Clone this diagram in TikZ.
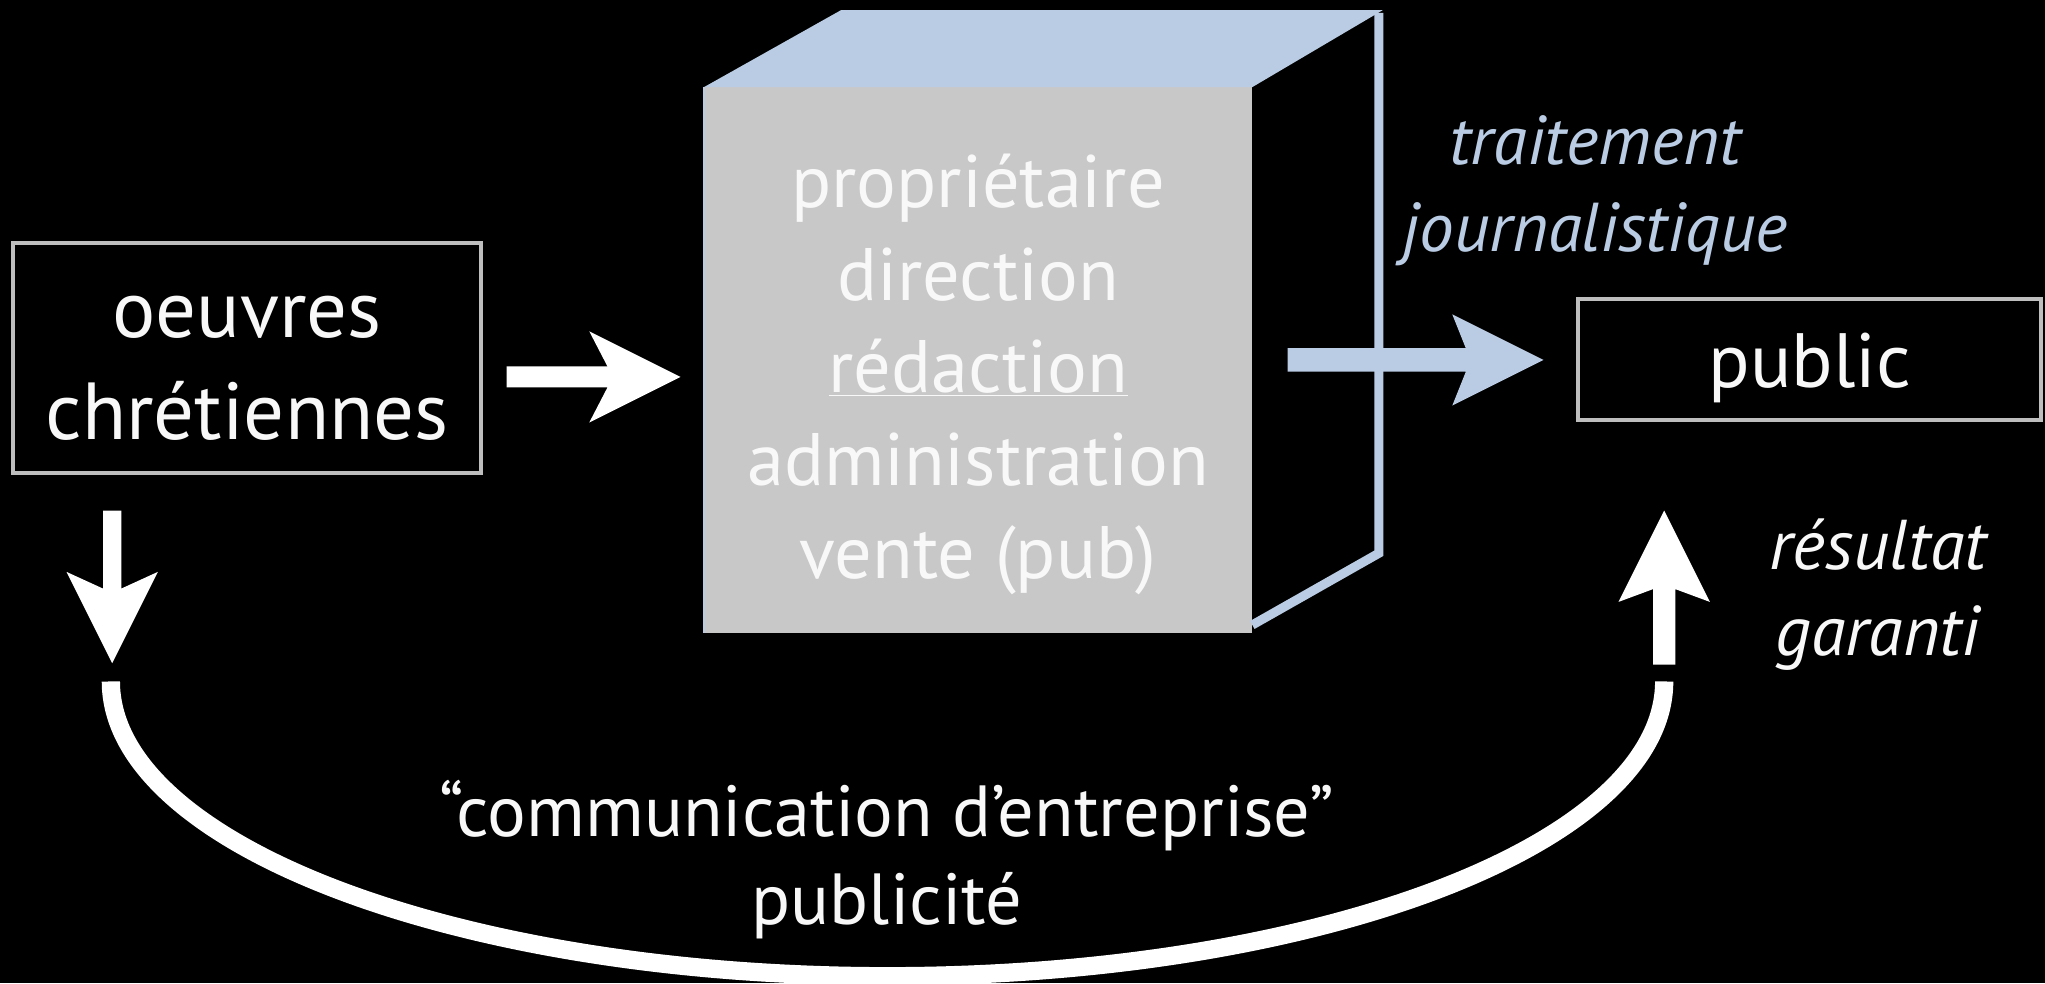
\documentclass[tikz,border=0pt]{standalone}
\usepackage{fontspec}
\setmainfont{PT Sans}
\usetikzlibrary{calc}
\definecolor{cubegray}{RGB}{200,200,200}
\definecolor{cubeblue}{RGB}{185,204,228}
\definecolor{boxgray}{RGB}{190,190,190}
\definecolor{softwhite}{RGB}{248,248,248}
% #1 tail, #2 tip, #3 colour, #4 half shaft, #5 half head, #6 junction distance, #7 head length
\newcommand\fatarrow[7]{%
  \fill[#3] ($(#1)!#4pt!90:(#2)$) -- ($(#2)!#6pt!(#1)!#4pt!90:(#2)$)
    -- ($(#2)!#7pt!(#1)!#5pt!90:(#2)$) -- (#2)
    -- ($(#2)!#7pt!(#1)!#5pt!-90:(#2)$) -- ($(#2)!#6pt!(#1)!#4pt!-90:(#2)$)
    -- ($(#1)!#4pt!-90:(#2)$) -- cycle;}
\begin{document}
\begin{tikzpicture}[x=1pt,y=-1pt,
  framebox/.style={draw=boxgray, line width=3pt, fill=black, inner sep=0pt},
  boxtext/.style={text=softwhite, align=center, inner sep=0pt},
  cubeface/.style={fill=cubegray, inner sep=0pt, minimum width=420pt, minimum height=418pt},
  cubetext/.style={text=softwhite, align=center, inner sep=0pt,
    font=\fontsize{57pt}{71pt}\selectfont},
  bluelabel/.style={text=cubeblue, align=center, inner sep=0pt,
    font=\fontsize{53pt}{67pt}\selectfont\itshape},
  whitelabel/.style={text=softwhite, align=center, inner sep=0pt,
    font=\fontsize{54pt}{66pt}\selectfont\itshape},
  bottomlabel/.style={text=softwhite, align=center, inner sep=0pt,
    font=\fontsize{55.5pt}{68pt}\selectfont},
  cubeedge/.style={draw=cubeblue, line width=7pt, line join=miter},
  loopline/.style={draw=white, line width=14pt}
]
\fill[black] (0,0) rectangle (1568,754);
\useasboundingbox (0,0) rectangle (1568,754);

% nodes
\node[framebox, minimum width=359pt, minimum height=177pt] (oeuvres) at (189.5,274.5) {};
\node[boxtext, font=\fontsize{62pt}{78pt}\selectfont] (oeuvrestext) at ($(oeuvres)+(0,8)$) {oeuvres\\chrétiennes};
\node[cubeface] (front) at (750,276) {};
\node[framebox, minimum width=355pt, minimum height=93pt] (public) at (1387.5,275.5) {};
\node[boxtext, font=\fontsize{59pt}{71pt}\selectfont] (publictext) at ($(public)+(0,7)$) {public};

% cube
\fill[cubeblue] (front.north west) -- ($(front.north west)+(105,-59)$)
  -- ($(front.north east)+(100,-59)$) -- (front.north east) -- cycle;
\draw[cubeedge] ($(front.north east)+(97,-57)$) -- ($(front.south east)+(97,-61)$)
  -- ($(front.south east)+(0,-6)$);
\draw[cubeblue, line width=1.5pt] (front.north west) -- (front.south west);
\node[cubetext] (roles) at (750,287) {propriétaire\\direction\\\underline{rédaction}\\administration\\vente (pub)};

% labels
\node[bluelabel] (traitement) at (1223,146) {traitement\\journalistique};
\node[whitelabel] (resultat) at (1440,456) {résultat\\garanti};
\node[bottomlabel] (communication) at (680,659) {“communication d’entreprise”\\publicité};

% arrow anchors
\coordinate (t1) at ($(oeuvres.east)+(18,14.5)$);
\coordinate (p1) at ($(front.west)+(-18,13)$);
\coordinate (t2) at ($(front.east)+(27,0)$);
\coordinate (p2) at ($(public.west)+(-25,0.5)$);
\coordinate (t3) at ($(oeuvres.south)+(-103.5,27)$);
\coordinate (p3) at ($(oeuvres.south)+(-103.5,144)$);
\coordinate (t4) at ($(public.south)+(-111.5,186)$);
\coordinate (p4) at ($(public.south)+(-111.5,68)$);
\coordinate (arcL) at ($(p3)+(-1,14)$);
\coordinate (arcR) at ($(t4)+(0,13)$);
\coordinate (arcB) at ($(arcL)!0.5!(arcR)+(0,226)$);

% arrows
\fatarrow{t1}{p1}{white}{8}{35}{56}{70}
\fatarrow{t2}{p2}{cubeblue}{9}{35}{59.6}{70}
\fatarrow{t3}{p3}{white}{7}{35}{57.2}{70}
\fatarrow{t4}{p4}{white}{8.5}{35}{60.2}{70}

% loop
\draw[loopline] (arcL) .. controls ($(arcL)+(0,125)$) and ($(arcB)+(-329,0)$) .. (arcB)
  .. controls ($(arcB)+(329,0)$) and ($(arcR)+(0,125)$) .. (arcR);
\end{tikzpicture}
\end{document}
